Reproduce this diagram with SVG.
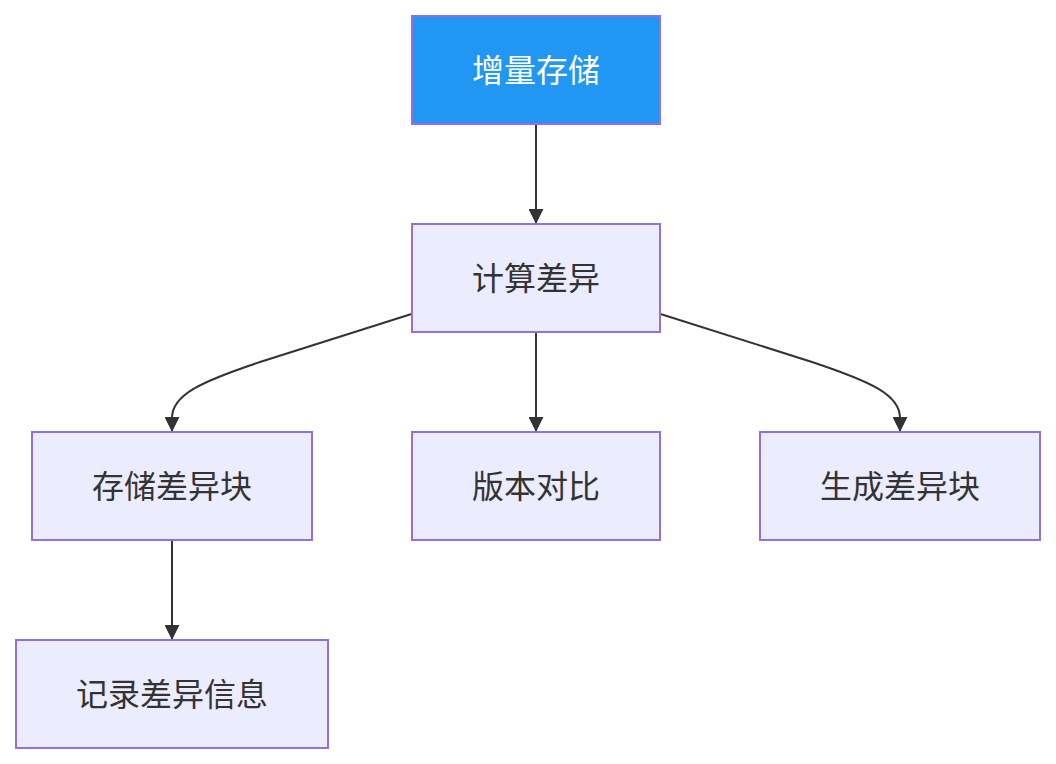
<svg xmlns="http://www.w3.org/2000/svg" width="1056" height="764" viewBox="0 0 1056 764">
<style>
.node rect{fill:#ECECFF;stroke:#9370DB;stroke-width:2}
.node text{font-family:"Liberation Sans","Noto Sans CJK SC",sans-serif;font-size:32px;fill:#333;text-anchor:middle;dominant-baseline:central}
#n1 rect{fill:#2196F3}
#n1 text{fill:#fff}
.edges path{fill:none;stroke:#333;stroke-width:2;marker-end:url(#arr)}
</style>
<defs>
<marker id="arr" viewBox="0 0 10 10" refX="10" refY="5" markerUnits="userSpaceOnUse" markerWidth="15" markerHeight="15" orient="auto">
<path d="M0,0 L10,5 L0,10 z" fill="#333"/>
</marker>
</defs>
<rect width="1056" height="764" fill="#fff"/>
<g class="edges">
<path d="M536,124 L536,224"/>
<path d="M536,332 L536,432"/>
<path d="M411.5,314 L260,362 C200,382 172,395 172,418 L172,432"/>
<path d="M660.5,314 L812,362 C872,382 900,395 900,418 L900,432"/>
<path d="M172,540 L172,640"/>
</g>
<g id="n1" class="node"><rect x="412" y="16" width="248" height="108"/><text x="536" y="71">增量存储</text></g>
<g id="n2" class="node"><rect x="412" y="224" width="248" height="108"/><text x="536" y="279">计算差异</text></g>
<g id="n3" class="node"><rect x="32" y="432" width="280" height="108"/><text x="172" y="487">存储差异块</text></g>
<g id="n4" class="node"><rect x="412" y="432" width="248" height="108"/><text x="536" y="487">版本对比</text></g>
<g id="n5" class="node"><rect x="760" y="432" width="280" height="108"/><text x="900" y="487">生成差异块</text></g>
<g id="n6" class="node"><rect x="16" y="640" width="312" height="108"/><text x="172" y="695">记录差异信息</text></g>
</svg>
